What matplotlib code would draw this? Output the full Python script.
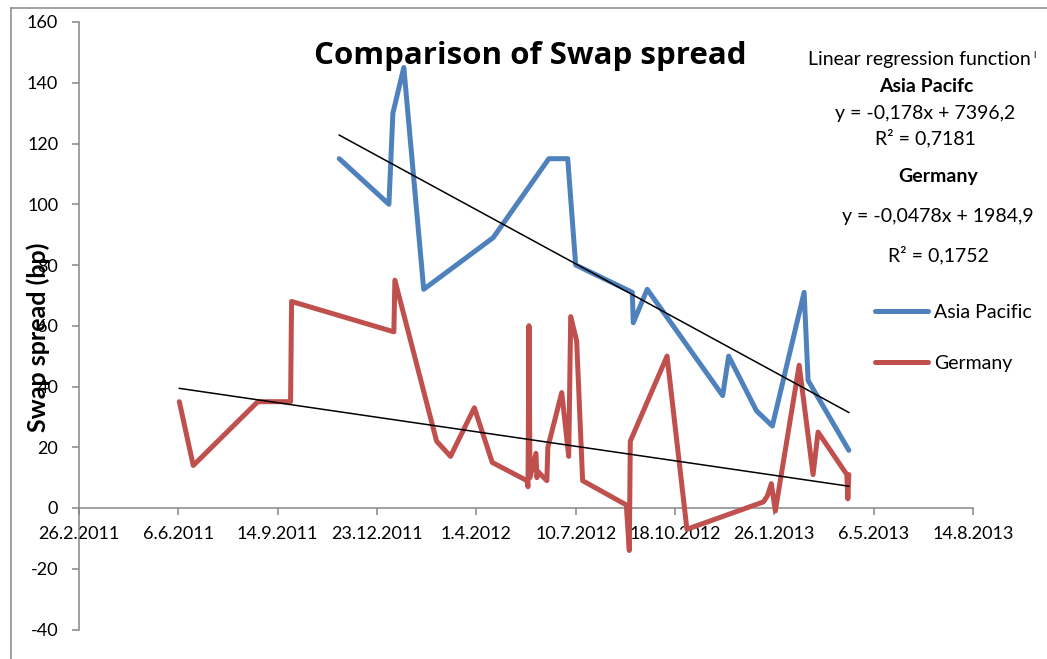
import matplotlib
matplotlib.use("Agg")
import matplotlib.pyplot as plt
from matplotlib.lines import Line2D
import numpy as np

plt.rcParams['font.family'] = ['Lato', 'DejaVu Sans']
plt.rcParams['axes.unicode_minus'] = False

# Dates are Excel serial day numbers (the regression was fitted on these)
asia_day = [40862, 40912, 40916, 40927, 40947, 41017, 41073, 41092, 41100, 41157,
            41158, 41172, 41248, 41254, 41282, 41298, 41330, 41334, 41375]
asia_bp = [115, 100, 130, 145, 72, 89, 115, 115, 80, 71,
           61, 72, 37, 50, 32, 27, 71, 42, 19]

germany_day = [40701, 40715, 40780, 40813, 40814, 40917, 40918, 40960, 40974, 40998,
               41016, 41051, 41052, 41053, 41054, 41060, 41061, 41062, 41071, 41072,
               41086, 41093, 41095, 41101, 41107, 41151, 41154, 41155, 41192, 41212,
               41289, 41293, 41297, 41301, 41325, 41339, 41344, 41373, 41374, 41375]
germany_bp = [35, 14, 35, 35, 68, 58, 75, 22, 17, 33,
              15, 9, 7, 60, 10, 18, 10, 12, 9, 20,
              38, 17, 63, 55, 9, 1, -14, 22, 50, -7,
              2, 4, 8, -1, 47, 11, 25, 11, 3, 11]

# Linear trend coefficients
asia_slope, asia_intercept, asia_r2 = -0.178, 7396.2, 0.7181
germany_slope, germany_intercept, germany_r2 = -0.0478, 1984.9, 0.1752

x_tick_days = [40600, 40700, 40800, 40900, 41000, 41100, 41200, 41300, 41400, 41500]
x_tick_labels = ["26.2.2011", "6.6.2011", "14.9.2011", "23.12.2011", "1.4.2012",
                 "10.7.2012", "18.10.2012", "26.1.2013", "6.5.2013", "14.8.2013"]
y_ticks = [-40, -20, 0, 20, 40, 60, 80, 100, 120, 140, 160]

BLUE = '#4F81BD'
RED = '#C0504D'
GRAY = '#868686'

W, H = 1047, 659


def fx(px):
    return px / W


def fy(py):
    return 1 - py / H


def num(v, digits):
    return f"{v:.{digits}f}".replace('.', ',')


fig = plt.figure(figsize=(W / 100, H / 100), dpi=100)
ax = fig.add_axes([fx(79), fy(629.5), (973 - 79) / W, (629.5 - 22) / H])

ax.set_xlim(x_tick_days[0], x_tick_days[-1])
ax.set_ylim(y_ticks[0], y_ticks[-1])

line_kw = dict(lw=3.6, solid_joinstyle='round', solid_capstyle='round')
l_asia, = ax.plot(asia_day, asia_bp, color=BLUE, zorder=2, label='Asia Pacific', **line_kw)
l_ger, = ax.plot(germany_day, germany_bp, color=RED, zorder=3, label='Germany', **line_kw)

for days, m, b in ((asia_day, asia_slope, asia_intercept),
                   (germany_day, germany_slope, germany_intercept)):
    xs = np.array([days[0], days[-1]], dtype=float)
    ax.plot(xs, m * xs + b, color='black', lw=1.1, zorder=4)

# Axes styling: y axis on the left, x axis crossing at zero
for s in ('top', 'right'):
    ax.spines[s].set_visible(False)
ax.spines['bottom'].set_position(('data', 0))
for s in ('left', 'bottom'):
    ax.spines[s].set_color(GRAY)
    ax.spines[s].set_linewidth(1.1)

ax.set_xticks(x_tick_days)
ax.set_xticklabels(x_tick_labels)
ax.set_yticks(y_ticks)
ax.tick_params(axis='x', direction='out', length=5, width=1.1, color=GRAY,
               labelsize=13, pad=8)
ax.tick_params(axis='y', direction='out', length=5, width=1.1, color=GRAY,
               labelsize=13, pad=10)

# Title and axis label
fig.text(fx(530), fy(64), "Comparison of Swap spread", ha='center', va='baseline',
         fontsize=22.5, fontweight='bold', family=['Open Sans', 'DejaVu Sans'])
fig.text(fx(38), fy(337.5), "Swap spread (bp)", rotation=90, ha='center', va='center',
         fontsize=18, fontweight='bold')

# Regression annotations
fs = 14
fig.text(fx(1031), fy(60), "Linear regression function", ha='right', va='center', fontsize=fs)
fig.text(fx(1033), fy(55), "l", ha='left', va='center', fontsize=7)
fig.text(fx(926), fy(86.7), "Asia Pacifc", ha='center', va='center', fontsize=fs,
         fontweight='bold')
fig.text(fx(925.5), fy(113), f"y = {num(asia_slope, 3)}x + {num(asia_intercept, 1)}",
         ha='center', va='center', fontsize=fs)
fig.text(fx(925.5), fy(138), f"R² = {num(asia_r2, 4)}", ha='center', va='center', fontsize=fs)
fig.text(fx(938.5), fy(176.7), "Germany", ha='center', va='center', fontsize=fs,
         fontweight='bold')
fig.text(fx(937.5), fy(216.7), f"y = {num(germany_slope, 4)}x + {num(germany_intercept, 1)}",
         ha='center', va='center', fontsize=fs)
fig.text(fx(938.5), fy(255), f"R² = {num(germany_r2, 4)}", ha='center', va='center', fontsize=fs)

ax.legend(handles=[l_asia, l_ger], loc='upper left', bbox_to_anchor=(fx(875), fy(304)),
          bbox_transform=fig.transFigure, frameon=False, fontsize=fs,
          handlelength=2.7, handletextpad=0.35, labelspacing=1.75,
          borderpad=0, borderaxespad=0)

# Chart-area border (left and top edges visible)
fig.add_artist(Line2D([fx(11), fx(11)], [0, fy(8)], color=GRAY, lw=1.1))
fig.add_artist(Line2D([fx(11), 1], [fy(8), fy(8)], color=GRAY, lw=1.1))

fig.savefig("out.png", dpi=100)
